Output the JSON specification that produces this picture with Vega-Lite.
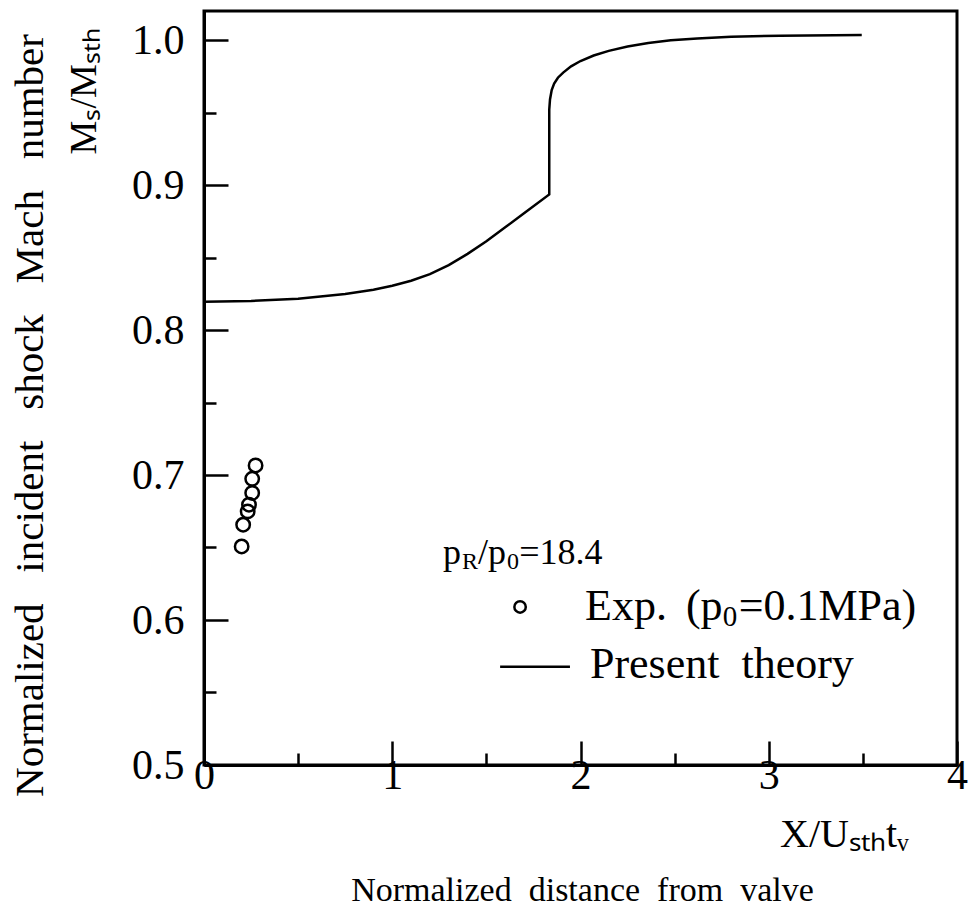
{
  "$schema": "https://vega.github.io/schema/vega-lite/v6.json",
  "width": 753,
  "height": 754,
  "autosize": {"type": "none"},
  "padding": {"left": 204, "top": 11, "right": 11, "bottom": 154},
  "background": "white",
  "config": {
    "view": {"stroke": "black", "strokeWidth": 3},
    "font": "Liberation Serif",
    "axis": {
      "labelFont": "Liberation Serif",
      "titleFont": "Liberation Serif",
      "labelColor": "black",
      "titleColor": "black",
      "titleFontWeight": "normal",
      "domainColor": "black",
      "domainWidth": 3,
      "tickColor": "black",
      "tickWidth": 2.5,
      "labelFlush": false,
      "labelOverlap": false,
      "grid": false
    },
    "text": {"font": "Liberation Serif", "color": "black"}
  },
  "datasets": {
    "theory": [
      {"i": 0, "x": 0.0, "y": 0.8195},
      {"i": 1, "x": 0.25, "y": 0.8200},
      {"i": 2, "x": 0.5, "y": 0.8215},
      {"i": 3, "x": 0.75, "y": 0.8248},
      {"i": 4, "x": 0.9, "y": 0.8278},
      {"i": 5, "x": 1.0, "y": 0.8305},
      {"i": 6, "x": 1.1, "y": 0.8340},
      {"i": 7, "x": 1.2, "y": 0.8385},
      {"i": 8, "x": 1.3, "y": 0.8448},
      {"i": 9, "x": 1.4, "y": 0.8525},
      {"i": 10, "x": 1.5, "y": 0.8612},
      {"i": 11, "x": 1.6, "y": 0.8708},
      {"i": 12, "x": 1.7, "y": 0.8805},
      {"i": 13, "x": 1.834, "y": 0.8935},
      {"i": 14, "x": 1.834, "y": 0.9520},
      {"i": 15, "x": 1.838, "y": 0.9590},
      {"i": 16, "x": 1.847, "y": 0.9655},
      {"i": 17, "x": 1.860, "y": 0.9700},
      {"i": 18, "x": 1.880, "y": 0.9740},
      {"i": 19, "x": 1.908, "y": 0.9775},
      {"i": 20, "x": 1.950, "y": 0.9818},
      {"i": 21, "x": 2.000, "y": 0.9855},
      {"i": 22, "x": 2.070, "y": 0.9893},
      {"i": 23, "x": 2.150, "y": 0.9925},
      {"i": 24, "x": 2.250, "y": 0.9955},
      {"i": 25, "x": 2.360, "y": 0.9980},
      {"i": 26, "x": 2.480, "y": 0.9998},
      {"i": 27, "x": 2.620, "y": 1.0011},
      {"i": 28, "x": 2.800, "y": 1.0022},
      {"i": 29, "x": 3.060, "y": 1.0030},
      {"i": 30, "x": 3.494, "y": 1.0035}
    ],
    "exp": [
      {"x": 0.274, "y": 0.7066},
      {"x": 0.256, "y": 0.6974},
      {"x": 0.256, "y": 0.6876},
      {"x": 0.239, "y": 0.6795},
      {"x": 0.232, "y": 0.6749},
      {"x": 0.208, "y": 0.6657},
      {"x": 0.200, "y": 0.6507}
    ],
    "legendpoint": [{"x": 1.679, "y": 0.609}],
    "legendline": [{"x": 1.573, "x2": 1.944, "y": 0.5677}],
    "legendtext": [
      {"x": 2.024, "y": 0.609, "t": "Exp.", "s": "main"},
      {"x": 2.560, "y": 0.609, "t": "(p", "s": "main"},
      {"x": 2.755, "y": 0.609, "t": "0", "s": "sub"},
      {"x": 2.840, "y": 0.609, "t": "=0.1MPa)", "s": "main"},
      {"x": 2.05, "y": 0.569, "t": "Present \u00a0theory", "s": "main"}
    ],
    "xlabel2": [{"x": 3.06, "y": 0.4517, "t": "X/Uₛₜₕtᵥ"}],
    "prline": [
      {"x": 1.270, "y": 0.6463, "t": "p", "s": "main"},
      {"x": 1.371, "y": 0.6463, "t": "R", "s": "sub"},
      {"x": 1.456, "y": 0.6463, "t": "/p", "s": "main"},
      {"x": 1.610, "y": 0.6463, "t": "0", "s": "sub"},
      {"x": 1.674, "y": 0.6463, "t": "=18.4", "s": "main"}
    ],
    "rotlabel": [{"x": -0.632, "y": 0.9646, "t": "Mₛ/Mₛₜₕ"}]
  },
  "encoding": {
    "x": {
      "field": "x", "type": "quantitative",
      "scale": {"domain": [0, 4], "nice": false, "zero": false},
      "axis": {
        "values": [0, 0.5, 1, 1.5, 2, 2.5, 3, 3.5, 4],
        "labelExpr": "round(datum.value*2)%2==0 ? format(datum.value,'d') : ''",
        "labelFontSize": 42,
        "labelPadding": 14,
        "tickSize": {"condition": {"test": "round(datum.value*2)%2==0", "value": -24}, "value": -12},
        "title": "Normalized \u00a0distance \u00a0from \u00a0valve",
        "titleFontSize": 34,
        "titleX": 378,
        "titleY": 125,
        "titleAlign": "center",
        "titleBaseline": "middle"
      }
    },
    "y": {
      "field": "y", "type": "quantitative",
      "scale": {"domain": [0.5, 1.02], "nice": false, "zero": false},
      "axis": {
        "values": [0.5, 0.55, 0.6, 0.65, 0.7, 0.75, 0.8, 0.85, 0.9, 0.95, 1.0],
        "labelExpr": "round(datum.value*20)%2==0 ? format(datum.value,'.1f') : ''",
        "labelFontSize": 42,
        "labelPadding": 44,
        "tickSize": {"condition": {"test": "round(datum.value*20)%2==0", "value": -24}, "value": -12},
        "title": "Normalized \u00a0\u00a0incident \u00a0\u00a0shock \u00a0\u00a0Mach \u00a0\u00a0number",
        "titleFontSize": 41,
        "titleAngle": 270,
        "titleX": -174,
        "titleY": 404,
        "titleAlign": "center",
        "titleBaseline": "middle"
      }
    }
  },
  "layer": [
    {
      "data": {"name": "theory"},
      "mark": {"type": "line", "color": "black", "strokeWidth": 2.5},
      "encoding": {"order": {"field": "i", "type": "quantitative"}}
    },
    {
      "data": {"name": "exp"},
      "mark": {"type": "point", "shape": "circle", "filled": false, "color": "black", "strokeWidth": 2.5, "size": 180, "opacity": 1}
    },
    {
      "data": {"name": "legendpoint"},
      "mark": {"type": "point", "shape": "circle", "filled": false, "color": "black", "strokeWidth": 2.5, "size": 130, "opacity": 1}
    },
    {
      "data": {"name": "legendline"},
      "mark": {"type": "rule", "color": "black", "strokeWidth": 2.5},
      "encoding": {"x2": {"field": "x2"}}
    },
    {
      "data": {"name": "legendtext"},
      "transform": [{"filter": "datum.s == 'main'"}],
      "mark": {"type": "text", "align": "left", "baseline": "middle", "fontSize": 44},
      "encoding": {"text": {"field": "t"}}
    },
    {
      "data": {"name": "legendtext"},
      "transform": [{"filter": "datum.s == 'sub'"}],
      "mark": {"type": "text", "align": "left", "baseline": "middle", "fontSize": 29, "dy": 10},
      "encoding": {"text": {"field": "t"}}
    },
    {
      "data": {"name": "xlabel2"},
      "mark": {"type": "text", "align": "left", "baseline": "middle", "fontSize": 40},
      "encoding": {"text": {"field": "t"}}
    },
    {
      "data": {"name": "prline"},
      "transform": [{"filter": "datum.s == 'main'"}],
      "mark": {"type": "text", "align": "left", "baseline": "middle", "fontSize": 36},
      "encoding": {"text": {"field": "t"}}
    },
    {
      "data": {"name": "prline"},
      "transform": [{"filter": "datum.s == 'sub'"}],
      "mark": {"type": "text", "align": "left", "baseline": "middle", "fontSize": 24, "dy": 9},
      "encoding": {"text": {"field": "t"}}
    },
    {
      "data": {"name": "rotlabel"},
      "mark": {"type": "text", "align": "center", "baseline": "middle", "fontSize": 38, "angle": 270},
      "encoding": {"text": {"field": "t"}}
    }
  ]
}
